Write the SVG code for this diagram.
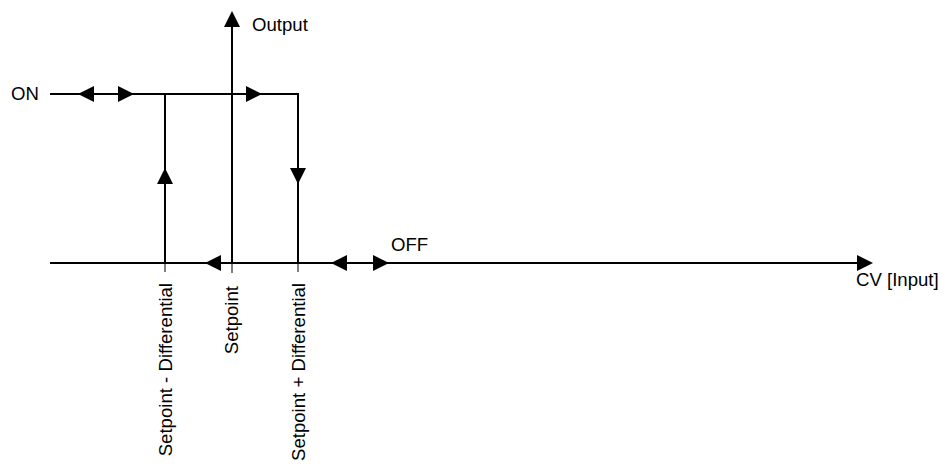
<svg xmlns="http://www.w3.org/2000/svg" width="944" height="465" viewBox="0 0 944 465">
<style>
.ln{stroke:#000;stroke-width:2;fill:none}
.tk{stroke:#000;stroke-width:1;fill:none}
.ah{fill:#000}
text{font-family:"Liberation Sans",Arial,sans-serif;font-size:18.6px;fill:#000}
</style>
<rect width="944" height="465" fill="#fff"/>
<g id="connectors">
<line class="ln" x1="232" y1="264" x2="232" y2="20"/>
<polygon class="ah" points="232,11 224,27 240,27"/>
<line class="ln" x1="50" y1="94" x2="298" y2="94"/>
<line class="ln" x1="298" y1="93" x2="298" y2="264"/>
<line class="ln" x1="165" y1="94" x2="165" y2="264"/>
<line class="ln" x1="50" y1="263" x2="864" y2="263"/>
<polygon class="ah" points="873,263 857,255 857,271"/>
<polygon class="ah" points="78,94 94,86 94,102"/>
<polygon class="ah" points="134,94 118,86 118,102"/>
<polygon class="ah" points="262,94 246,86 246,102"/>
<polygon class="ah" points="165,168 157,184 173,184"/>
<polygon class="ah" points="298,184 290,168 306,168"/>
<polygon class="ah" points="205,263 221,255 221,271"/>
<polygon class="ah" points="331,263 347,255 347,271"/>
<polygon class="ah" points="389,263 373,255 373,271"/>
<line class="tk" x1="165" y1="263" x2="165" y2="272"/>
<line class="tk" x1="232" y1="263" x2="232" y2="273" stroke="#999"/>
<line class="tk" x1="298" y1="263" x2="298" y2="272"/>
</g>
<g id="label-output"><text x="252" y="31">Output</text></g>
<g id="label-on"><text x="11" y="100">ON</text></g>
<g id="label-off"><text x="391" y="251">OFF</text></g>
<g id="label-cv"><text x="856" y="286">CV [Input]</text></g>
<g id="label-spd"><text transform="translate(172,283) rotate(-90)" text-anchor="end">Setpoint - Differential</text></g>
<g id="label-sp"><text transform="translate(238,286) rotate(-90)" text-anchor="end">Setpoint</text></g>
<g id="label-spp"><text transform="translate(305,283) rotate(-90)" text-anchor="end">Setpoint + Differential</text></g>
</svg>
